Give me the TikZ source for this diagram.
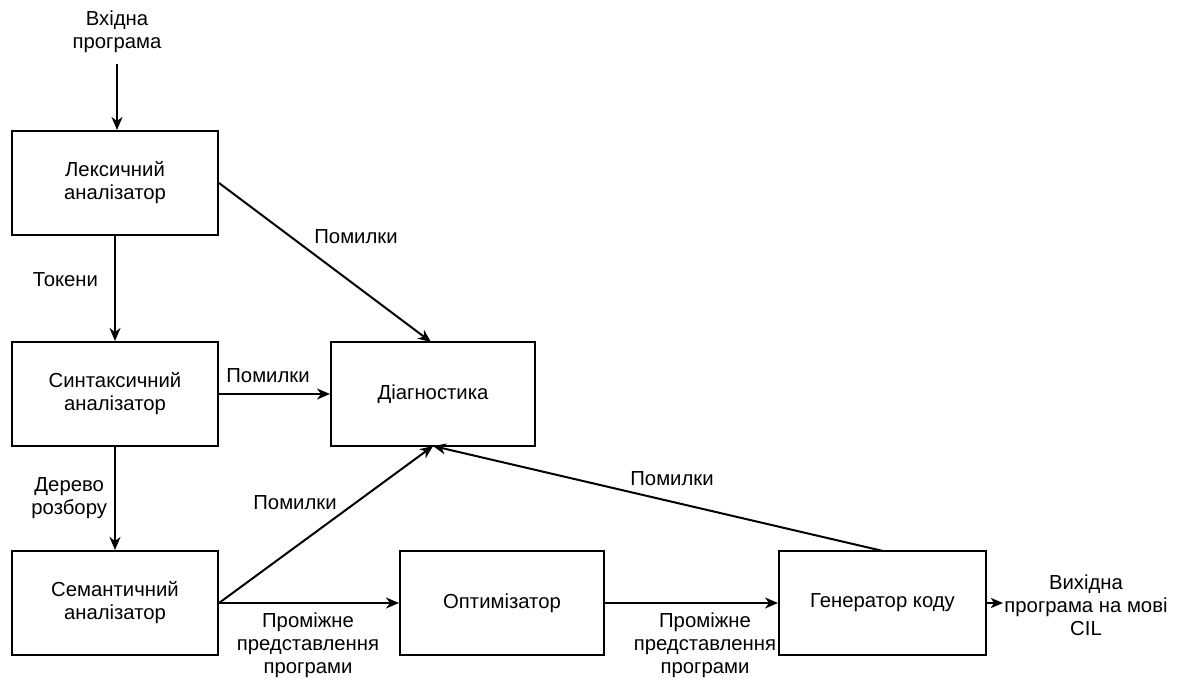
\documentclass[tikz,border=0pt]{standalone}
\usepackage{fontspec}
\setmainfont{Liberation Sans}
\usetikzlibrary{arrows.meta}
\begin{document}
\begin{tikzpicture}[x=1pt,y=-1pt,
  blk/.style={draw, line width=2pt, minimum width=#1, minimum height=104pt, inner sep=0pt, align=center, font=\fontsize{20.3}{23}\selectfont},
  blk/.default=206pt,
  lbl/.style={align=center, font=\fontsize{20.3}{23}\selectfont, inner sep=0pt},
  arr/.style={line width=2pt, -{Stealth[length=13pt,width=11pt,inset=4pt]}}]
\useasboundingbox (0,0) rectangle (1181,679);
\node[blk] (lex) at (115,183) {Лексичний\\аналізатор};
\node[blk] (syn) at (115,394) {Синтаксичний\\аналізатор};
\node[blk] (sem) at (115,603) {Семантичний\\аналізатор};
\node[blk=204pt] (diag) at (433,394) {Діагностика};
\node[blk=204pt] (opt) at (502,603) {Оптимізатор};
\node[blk=207pt] (gen) at (882.5,603) {Генератор коду};
\node[lbl] (in) at (117,32) {Вхідна\\програма};
\node[lbl] (out) at (1086,605) {Вихідна\\програма на мові\\CIL};
\coordinate (inend) at (117,64);
\coordinate (outend) at (1003,603);
\coordinate (lexout) at (219,183);
\coordinate (diagtop) at (431,342);
\coordinate (diagbot) at (433,446);
\coordinate (genmid) at (883,551);
\draw[arr] (inend) -- (lex.north -| inend);
\draw[arr] (lex.south) -- (syn.north) node[lbl, pos=0.42, left=16pt] (t1) {Токени};
\draw[arr] (syn.south) -- (sem.north) node[lbl, pos=0.5, left=7pt] (t2) {Дерево\\розбору};
\draw[arr] (lexout) -- (diagtop);
\node[lbl] (e1) at (356,237) {Помилки};
\draw[arr] (syn.east) -- (diag.west);
\node[lbl] (e2) at (268,376) {Помилки};
\draw[arr] (sem.east) -- (diagbot);
\node[lbl] (e3) at (295,503) {Помилки};
\draw[arr] (genmid) -- (diagbot);
\node[lbl] (e4) at (672,479) {Помилки};
\draw[arr] (sem.east) -- (opt.west);
\node[lbl] (p1) at (308,645) {Проміжне\\представлення\\програми};
\draw[arr] (opt.east) -- (gen.west);
\node[lbl] (p2) at (705,645) {Проміжне\\представлення\\програми};
\draw[line width=2pt, -{Stealth[length=12pt,width=10pt,inset=3pt]}] (gen.east) -- (outend);
\end{tikzpicture}
\end{document}
